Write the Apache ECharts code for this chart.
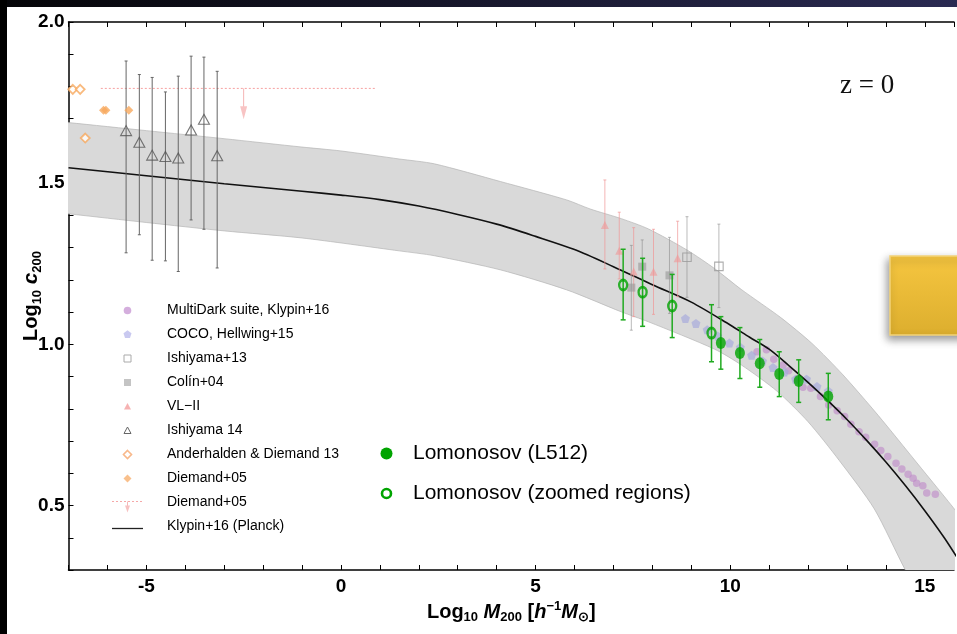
<!DOCTYPE html>
<html><head><meta charset="utf-8">
<script src="https://cdn.jsdelivr.net/npm/echarts@6/dist/echarts.min.js"></script>
<style>html,body{margin:0;padding:0;background:#fff}#c{width:957px;height:634px}</style>
</head><body><div id="c"></div>
<script>
// ---------- data ----------
const xTickLabels = [-5, 0, 5, 10, 15];
const yTickLabels = [0.5, 1.0, 1.5, 2.0];

const curveX = [-7,-5,-3,-1,0,1,2,3,4,5,6,7,8,9,10,10.5,11,11.5,12,12.5,13,13.5,14,14.5,15,15.5,15.9];
const curveY = [1.548,1.523,1.498,1.475,1.463,1.449,1.429,1.403,1.373,1.335,1.294,1.241,1.185,1.131,1.060,1.022,0.985,0.935,0.882,0.826,0.767,0.703,0.635,0.562,0.484,0.400,0.325];

const bandUpX = [-8,-7,-5,-3,-1,0,1.5,2.4,4.1,5.8,6.4,7.2,7.9,8.9,9.6,10.3,11.3,12.1,12.9,13.8,14.8,15.84,16.5];
const bandUpY = [1.700,1.688,1.663,1.638,1.612,1.600,1.575,1.560,1.505,1.448,1.420,1.390,1.358,1.292,1.235,1.169,1.083,1.003,0.905,0.780,0.632,0.477,0.37];
const bandLoX = [-8,-7,-5,-3,-1,1.5,2.4,4.1,5.8,7.2,7.9,9.6,10.3,11.2,12.0,12.8,13.7,14.5,14.9,16.5];
const bandLoY = [1.418,1.405,1.378,1.352,1.330,1.290,1.275,1.231,1.169,1.101,1.070,0.985,0.935,0.855,0.76,0.64,0.49,0.30,0.22,-0.2];

const multiDarkX = [10.69,10.93,11.12,11.36,11.50,11.73,11.87,12.07,12.32,12.53,12.75,12.94,13.10,13.31,13.48,13.71,13.87,14.05,14.26,14.41,14.57,14.70,14.79,14.95,15.05,15.27];
const multiDarkY = [0.977,0.983,0.954,0.936,0.918,0.893,0.867,0.864,0.838,0.812,0.794,0.776,0.752,0.729,0.712,0.690,0.671,0.652,0.631,0.613,0.597,0.585,0.569,0.561,0.539,0.535];

const cocoX = [8.85,9.12,9.41,9.68,9.98,10.26,10.55,10.83,11.10,11.39,11.68,11.96,12.23,12.52];
const cocoY = [1.080,1.065,1.045,1.026,1.004,0.991,0.966,0.948,0.928,0.914,0.892,0.892,0.869,0.855];

const ishi13X = [8.89, 9.71];
const ishi13Y = [1.270, 1.242];
const ishi13Hi = [1.396, 1.373];
const ishi13Lo = [1.146, 1.114];

const colinX = [7.46, 7.74, 8.44];
const colinY = [1.176, 1.241, 1.214];
const colinHi = [1.307, 1.324, 1.332];
const colinLo = [1.044, 1.055, 1.096];

const vlX = [6.78, 7.15, 7.52, 8.03, 8.65];
const vlY = [1.370, 1.290, 1.226, 1.225, 1.267];
const vlHi = [1.510, 1.410, 1.362, 1.357, 1.382];
const vlLo = [1.234, 1.203, 1.086, 1.093, 1.148];

const ishi14X = [-5.52,-5.18,-4.85,-4.51,-4.18,-3.85,-3.52,-3.18];
const ishi14Y = [1.663,1.627,1.587,1.583,1.578,1.665,1.698,1.585];
const ishi14Hi = [1.879,1.837,1.828,1.783,1.832,1.894,1.891,1.847];
const ishi14Lo = [1.284,1.340,1.261,1.259,1.226,1.386,1.357,1.237];

const andX = [-6.89, -6.70, -6.57];
const andY = [1.791, 1.791, 1.640];

const diemX = [-6.10, -6.04, -5.45];
const diemY = [1.726, 1.726, 1.726];

const limitLineX = [-6.17, 0.88];
const limitLineY = [1.794, 1.794];
const limitArrowX = [-2.50];
const limitArrowFrom = [1.794];
const limitArrowTo = [1.698];

const lomX = [9.76, 10.25, 10.76, 11.26, 11.76, 12.52];
const lomY = [1.004, 0.973, 0.941, 0.908, 0.886, 0.838];
const lomHi = [1.086, 1.052, 1.015, 0.977, 0.952, 0.910];
const lomLo = [0.923, 0.894, 0.867, 0.838, 0.820, 0.766];

const zoomX = [7.25, 7.75, 8.51, 9.52];
const zoomY = [1.184, 1.162, 1.119, 1.035];
const zoomHi = [1.295, 1.267, 1.217, 1.123];
const zoomLo = [1.076, 1.056, 1.021, 0.946];

const legendNames = ['MultiDark suite, Klypin+16','COCO, Hellwing+15','Ishiyama+13','Colín+04','VL\u2212II','Ishiyama 14','Anderhalden & Diemand 13','Diemand+05','Diemand+05','Klypin+16 (Planck)'];
const legend2Names = ['Lomonosov (L512)', 'Lomonosov (zoomed regions)'];

// ---------- styling ----------
const NARROW = "'Liberation Sans Narrow','Liberation Sans',Arial,sans-serif";
const SANS = "'Liberation Sans',Arial,sans-serif";
const C_MD = 'rgba(190,135,200,0.75)';
const C_COCO = 'rgba(165,168,220,0.8)';
const C_VL = 'rgba(240,150,150,0.75)';
const C_VLBAR = 'rgba(240,150,150,0.7)';
const C_GRAYBAR = 'rgba(140,140,140,0.6)';
const C_ORANGE = '#f7a95e';
const C_GREEN = '#00a400';
const PENT = 'path://M0,-10 L9.51,-3.09 L5.88,8.09 L-5.88,8.09 L-9.51,-3.09 Z';

const zip = (a, b) => a.map((v, i) => [v, b[i]]);
const zip3 = (a, b, c) => a.map((v, i) => [v, b[i], c[i]]);

function errBars(xs, lo, hi, color, width, cap, z) {
  return {
    type: 'custom', silent: true, clip: true, z: z,
    data: zip3(xs, lo, hi),
    encode: { x: 0, y: [1, 2] },
    renderItem: function (params, api) {
      const x = api.value(0);
      const pT = api.coord([x, api.value(2)]);
      const pB = api.coord([x, api.value(1)]);
      const st = { stroke: color, lineWidth: width };
      return { type: 'group', children: [
        { type: 'line', shape: { x1: pT[0], y1: pT[1], x2: pB[0], y2: pB[1] }, style: st },
        { type: 'line', shape: { x1: pT[0] - cap, y1: pT[1], x2: pT[0] + cap, y2: pT[1] }, style: st },
        { type: 'line', shape: { x1: pB[0] - cap, y1: pB[1], x2: pB[0] + cap, y2: pB[1] }, style: st }
      ]};
    }
  };
}

const chart = echarts.init(document.getElementById('c'), null, { renderer: 'canvas' });

// ---------- legend built from names ----------
const lg = [];
const rowY = i => 310.5 + 24 * i;
const symX = 127.5;
legendNames.forEach((name, i) => {
  const y = rowY(i);
  lg.push({ type: 'text', z: 100, style: { text: name, x: 167, y: y, font: '14px ' + SANS, fill: '#000', verticalAlign: 'middle' } });
});
lg.push({ type: 'circle', z: 100, shape: { cx: symX, cy: rowY(0), r: 3.8 }, style: { fill: 'rgba(205,160,215,0.85)' } });
lg.push({ type: 'polygon', z: 100, shape: { points: [[symX, rowY(1) - 4.2], [symX + 4, rowY(1) - 1.2], [symX + 2.5, rowY(1) + 3.4], [symX - 2.5, rowY(1) + 3.4], [symX - 4, rowY(1) - 1.2]] }, style: { fill: 'rgba(195,195,238,0.9)' } });
lg.push({ type: 'rect', z: 100, shape: { x: symX - 3.5, y: rowY(2) - 3.5, width: 7, height: 7 }, style: { fill: '#fff', stroke: '#aaa', lineWidth: 1 } });
lg.push({ type: 'rect', z: 100, shape: { x: symX - 3.5, y: rowY(3) - 3.5, width: 7, height: 7 }, style: { fill: '#c4c4c4' } });
lg.push({ type: 'polygon', z: 100, shape: { points: [[symX, rowY(4) - 3.5], [symX + 3.5, rowY(4) + 3], [symX - 3.5, rowY(4) + 3]] }, style: { fill: 'rgba(245,170,170,0.9)' } });
lg.push({ type: 'polygon', z: 100, shape: { points: [[symX, rowY(5) - 3.5], [symX + 3.5, rowY(5) + 3], [symX - 3.5, rowY(5) + 3]] }, style: { fill: 'none', stroke: '#666', lineWidth: 1 } });
lg.push({ type: 'polygon', z: 100, shape: { points: [[symX, rowY(6) - 4], [symX + 4, rowY(6)], [symX, rowY(6) + 4], [symX - 4, rowY(6)]] }, style: { fill: '#fff', stroke: '#f8b88a', lineWidth: 1.6 } });
lg.push({ type: 'polygon', z: 100, shape: { points: [[symX, rowY(7) - 4], [symX + 4, rowY(7)], [symX, rowY(7) + 4], [symX - 4, rowY(7)]] }, style: { fill: '#f9c08c' } });
lg.push({ type: 'line', z: 100, shape: { x1: 112, y1: rowY(8) - 1, x2: 143, y2: rowY(8) - 1 }, style: { stroke: '#f5a8a8', lineWidth: 1, lineDash: [2, 2] } });
lg.push({ type: 'line', z: 100, shape: { x1: symX, y1: rowY(8) - 1, x2: symX, y2: rowY(8) + 6 }, style: { stroke: '#f5b8b8', lineWidth: 1 } });
lg.push({ type: 'polygon', z: 100, shape: { points: [[symX - 2.5, rowY(8) + 3], [symX + 2.5, rowY(8) + 3], [symX, rowY(8) + 10]] }, style: { fill: '#f7c2c2' } });
lg.push({ type: 'line', z: 100, shape: { x1: 112, y1: rowY(9) + 2, x2: 143, y2: rowY(9) + 2 }, style: { stroke: '#222', lineWidth: 1.3 } });
// Lomonosov legend
lg.push({ type: 'circle', z: 100, shape: { cx: 386.5, cy: 453.5, r: 6 }, style: { fill: C_GREEN } });
lg.push({ type: 'circle', z: 100, shape: { cx: 386.5, cy: 493.5, r: 4.5 }, style: { fill: '#fff', stroke: C_GREEN, lineWidth: 2.6 } });
legend2Names.forEach((name, i) => {
  lg.push({ type: 'text', z: 100, style: { text: name, x: 413, y: 453.5 + 40 * i, font: '21px ' + SANS, fill: '#000', verticalAlign: 'middle' } });
});
// annotation and slide decorations
lg.push({ type: 'text', z: 100, style: { text: 'z = 0', x: 840, y: 86, font: '27px "Liberation Serif","Times New Roman",serif', fill: '#111', verticalAlign: 'middle' } });
lg.push({ type: 'rect', z: 100, shape: { x: 890, y: 256, width: 80, height: 79 },
  style: { fill: new echarts.graphic.LinearGradient(0, 0, 0, 1, [{ offset: 0, color: '#f6c640' }, { offset: 1, color: '#dcae2e' }]),
    stroke: '#f4d47a', lineWidth: 1.5, shadowBlur: 8, shadowOffsetX: -2, shadowOffsetY: 4, shadowColor: 'rgba(0,0,0,0.4)' } });
lg.push({ type: 'rect', z: 100, shape: { x: 0, y: 0, width: 957, height: 7 },
  style: { fill: new echarts.graphic.LinearGradient(0, 0, 1, 0, [{ offset: 0, color: '#050508' }, { offset: 1, color: '#2a2a52' }]) } });
lg.push({ type: 'rect', z: 100, shape: { x: 0, y: 0, width: 7, height: 634 }, style: { fill: '#000' } });

const isTick = (list, v) => list.some(t => Math.abs(t - v) < 1e-6);
const axisCommon = {
  type: 'value', min: -7, max: 15.75, interval: 1,
  axisLine: { show: true, onZero: false, lineStyle: { color: '#000', width: 1.5 } },
  axisTick: { show: true, inside: true, length: 5, lineStyle: { color: '#000', width: 1 } },
  splitLine: { show: false }
};

const option = {
  animation: false,
  backgroundColor: '#fff',
  grid: { left: 68.5, top: 22, right: 0, bottom: 64, containLabel: false },
  xAxis: [
    Object.assign({}, axisCommon, {
      position: 'bottom',
      axisLabel: { margin: 7, fontFamily: NARROW, fontWeight: 'bold', fontSize: 19, color: '#000',
        formatter: v => isTick(xTickLabels, v) ? (v < 0 ? '-' + Math.abs(v) : String(v)) : '' },
      name: '{b|Log}{s|10}{b| }{i|M}{s|200}{b| [}{i|h}{p|\u22121}{i|M}{s|\u2299}{b|]}',
      nameLocation: 'middle', nameGap: 30, nameMoveOverlap: false,
      nameTextStyle: { rich: {
        b: { fontFamily: NARROW, fontWeight: 'bold', fontSize: 20, color: '#000', lineHeight: 24 },
        i: { fontFamily: NARROW, fontWeight: 'bold', fontStyle: 'italic', fontSize: 20, color: '#000', lineHeight: 24 },
        s: { fontFamily: NARROW, fontWeight: 'bold', fontSize: 13, color: '#000', lineHeight: 10, verticalAlign: 'bottom' },
        p: { fontFamily: NARROW, fontWeight: 'bold', fontSize: 13, color: '#000', lineHeight: 10, verticalAlign: 'top' }
      } }
    }),
    Object.assign({}, axisCommon, { position: 'top', axisLabel: { show: false } })
  ],
  yAxis: {
    type: 'value', min: 0.3, max: 2.0, interval: 0.1,
    axisLine: { show: true, onZero: false, lineStyle: { color: '#000', width: 1.5 } },
    axisTick: { show: true, inside: true, length: 5, lineStyle: { color: '#000', width: 1 } },
    splitLine: { show: false },
    axisLabel: { margin: 4, fontFamily: NARROW, fontWeight: 'bold', fontSize: 19, color: '#000',
      formatter: v => isTick(yTickLabels, v) ? v.toFixed(1) : '' },
    name: '{b|Log}{s|10}{b| }{i|c}{s|200}',
    nameLocation: 'middle', nameGap: 25, nameMoveOverlap: false,
    nameTextStyle: { rich: {
      b: { fontFamily: NARROW, fontWeight: 'bold', fontSize: 20, color: '#000', lineHeight: 24 },
      i: { fontFamily: NARROW, fontWeight: 'bold', fontStyle: 'italic', fontSize: 21, color: '#000', lineHeight: 24 },
      s: { fontFamily: NARROW, fontWeight: 'bold', fontSize: 13, color: '#000', lineHeight: 10, verticalAlign: 'bottom' }
    } }
  },
  graphic: lg,
  series: [
    { // scatter band
      type: 'custom', silent: true, clip: true, z: 1,
      data: [[0, 1]], encode: { x: 0, y: 1 },
      renderItem: function (params, api) {
        if (params.dataIndex !== 0) return;
        const up = bandUpX.map((x, i) => api.coord([x, bandUpY[i]]));
        const lo = bandLoX.map((x, i) => api.coord([x, bandLoY[i]]));
        const pts = up.concat(lo.slice().reverse());
        return { type: 'group', children: [
          { type: 'polygon', shape: { points: pts, smooth: 0.25 }, style: { fill: '#d9d9d9' } },
          { type: 'polyline', shape: { points: up, smooth: 0.25 }, style: { stroke: '#b4b4b4', lineWidth: 0.7, fill: null } },
          { type: 'polyline', shape: { points: lo, smooth: 0.25 }, style: { stroke: '#b4b4b4', lineWidth: 0.7, fill: null } }
        ]};
      }
    },
    { type: 'scatter', name: 'MultiDark', z: 2, symbol: 'circle', symbolSize: 7.5, data: zip(multiDarkX, multiDarkY), itemStyle: { color: C_MD } },
    { type: 'scatter', name: 'COCO', z: 2, symbol: PENT, symbolSize: 9, data: zip(cocoX, cocoY), itemStyle: { color: C_COCO } },
    { type: 'line', name: 'Klypin', z: 3, data: zip(curveX, curveY), smooth: 0.3, showSymbol: false, symbol: 'none',
      lineStyle: { color: '#111', width: 1.6 } },
    { type: 'line', name: 'DiemLimit', z: 3, data: zip(limitLineX, limitLineY), showSymbol: false, symbol: 'none',
      lineStyle: { color: '#f6a0a0', width: 1, type: [2, 2] } },
    { type: 'custom', z: 3, silent: true, clip: true,
      data: zip3(limitArrowX, limitArrowFrom, limitArrowTo), encode: { x: 0, y: [1, 2] },
      renderItem: function (params, api) {
        const p0 = api.coord([api.value(0), api.value(1)]);
        const p1 = api.coord([api.value(0), api.value(2)]);
        return { type: 'group', children: [
          { type: 'line', shape: { x1: p0[0], y1: p0[1], x2: p1[0], y2: p1[1] - 8 }, style: { stroke: '#f5b4b4', lineWidth: 1 } },
          { type: 'polygon', shape: { points: [[p1[0] - 3.5, p1[1] - 13], [p1[0] + 3.5, p1[1] - 13], [p1[0], p1[1]]] }, style: { fill: '#f8c4c4' } }
        ]};
      }
    },
    errBars(ishi14X, ishi14Lo, ishi14Hi, '#666', 1, 1.5, 4),
    { type: 'scatter', z: 5, symbol: 'triangle', symbolSize: [11, 10], data: zip(ishi14X, ishi14Y),
      itemStyle: { color: 'rgba(0,0,0,0)', borderColor: '#555', borderWidth: 1.1 } },
    { type: 'scatter', z: 5, symbol: 'diamond', symbolSize: 9, data: zip(andX, andY),
      itemStyle: { color: '#fff', borderColor: C_ORANGE, borderWidth: 1.8 } },
    { type: 'scatter', z: 5, symbol: 'diamond', symbolSize: 9, data: zip(diemX, diemY), itemStyle: { color: C_ORANGE } },
    errBars(vlX, vlLo, vlHi, C_VLBAR, 1, 1.5, 4),
    { type: 'scatter', z: 4, symbol: 'triangle', symbolSize: [8, 8], data: zip(vlX, vlY), itemStyle: { color: C_VL } },
    errBars(colinX, colinLo, colinHi, C_GRAYBAR, 1, 1.5, 4),
    { type: 'scatter', z: 4, symbol: 'rect', symbolSize: 8, data: zip(colinX, colinY), itemStyle: { color: 'rgba(150,150,150,0.75)' } },
    errBars(ishi13X, ishi13Lo, ishi13Hi, C_GRAYBAR, 1, 1.5, 4),
    { type: 'scatter', z: 4, symbol: 'rect', symbolSize: 8.5, data: zip(ishi13X, ishi13Y),
      itemStyle: { color: 'rgba(255,255,255,0)', borderColor: '#9a9a9a', borderWidth: 1.1 } },
    errBars(zoomX, zoomLo, zoomHi, '#20aa20', 1.5, 2.5, 6),
    { type: 'scatter', z: 7, symbol: 'circle', symbolSize: [8, 10], data: zip(zoomX, zoomY),
      itemStyle: { color: 'rgba(255,255,255,0)', borderColor: C_GREEN, borderWidth: 2.6 } },
    errBars(lomX, lomLo, lomHi, '#20aa20', 1.5, 2.5, 6),
    { type: 'scatter', z: 7, symbol: 'circle', symbolSize: [10, 12], data: zip(lomX, lomY), itemStyle: { color: C_GREEN } }
  ]
};
chart.setOption(option);
</script></body></html>
